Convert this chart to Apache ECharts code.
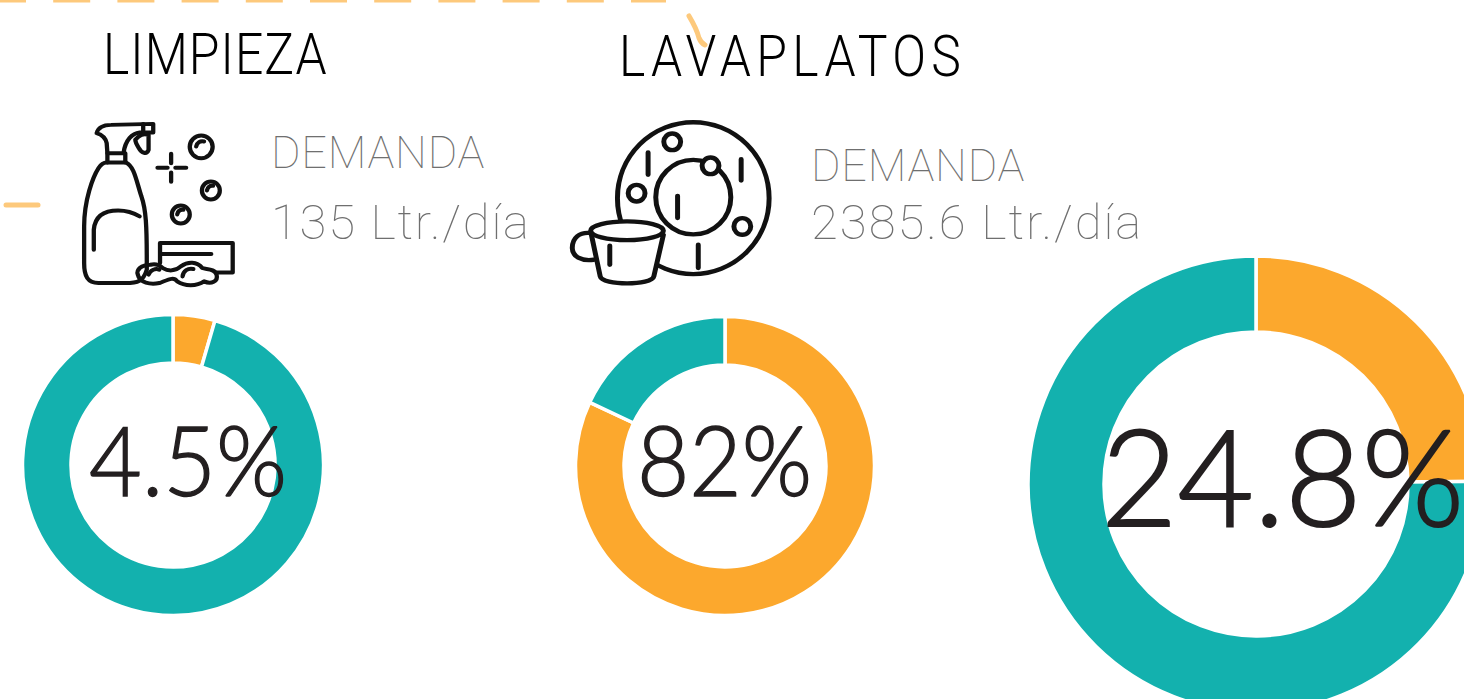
<!DOCTYPE html>
<html><head><meta charset="utf-8">
<style>html,body{margin:0;padding:0;background:#fff;overflow:hidden}#c{width:1464px;height:699px}</style>
<script src="https://cdn.jsdelivr.net/npm/echarts@6/dist/echarts.min.js"></script>
</head><body><div id="c"></div>
<script>
const categories = ['Uso', 'Resto'];
const limpiezaValues = [4.5, 95.5];
const lavaplatosValues = [82, 18];
const terceroValues = [24.8, 75.2];
const titles = ['LIMPIEZA', 'LAVAPLATOS'];
const demandLabel = 'DEMANDA';
const demandValues = ['135 Ltr./día', '2385.6 Ltr./día'];
const ORANGE = '#fca82d', TEAL = '#13b1ae', DECO = '#fdc97c', INK = '#231f20';

const chart = echarts.init(document.getElementById('c'), null, {renderer: 'svg', width: 1464, height: 699});

function donut(name, values, cx, cy, r0, r) {
  return {
    type: 'pie', name, center: [cx, cy], radius: [r0, r], startAngle: 90, clockwise: true,
    animation: false, silent: true, label: {show: false}, labelLine: {show: false},
    itemStyle: {borderColor: '#fff', borderWidth: 3.5},
    data: categories.map((c, i) => ({name: c, value: values[i], itemStyle: {color: i === 0 ? ORANGE : TEAL}}))
  };
}
const txt = (text, x, y, font, fill, sx, extra) => ({
  type: 'text', x, y, scaleX: sx || 1, silent: true, z: 10,
  style: Object.assign({text, font, fill, align: 'left', verticalAlign: 'middle'}, extra || {})
});
let shapeId = 0;
function pathShape(d) {
  const name = 'deco' + (shapeId++);
  echarts.graphic.registerShape(name, echarts.graphic.extendPath(d, {}));
  return name;
}
const stroke = {stroke: '#111', lineWidth: 12, fill: 'none', lineCap: 'round', lineJoin: 'round'};
const raw = (d, st) => ({type: pathShape(d), style: Object.assign({}, stroke, st || {})});
const circ = (cx, cy, rx, ry, st) => raw(`M${cx - rx} ${cy} A${rx} ${ry} 0 1 0 ${cx + rx} ${cy} A${rx} ${ry} 0 1 0 ${cx - rx} ${cy} Z`, st);

const bottle = [
  'M270 400 C275 380 290 375 310 375 L428 372 L428 398 L390 398 C370 400 350 420 345 460 L300 460 L298 430 C295 415 285 405 270 400 Z',
  'M400 372 V398',
  'M378 420 C390 405 400 400 415 405 L415 450 C410 465 395 460 388 445 C382 435 378 428 378 420 Z',
  'M300 460 V488 M350 460 V488',
  'M298 488 L352 488 C375 500 380 540 395 590 C408 630 410 680 410 780 L410 810 C400 845 385 850 350 850 L275 850 C245 850 235 830 235 790 L235 680 C235 600 260 530 275 505 C282 493 288 488 298 488 Z',
  'M262 750 L262 690 C265 650 290 632 330 632 C355 632 375 640 390 650',
  'M478 462 V490 M478 518 V546 M440 504 H468 M490 504 H520',
  'M447 790 L447 730 L650 730 L650 818 L605 818 M447 763 L590 763',
  'M420 795 C395 795 380 810 385 825 C390 850 420 855 445 850 C470 840 485 830 495 845 C515 860 550 860 570 845 C590 855 610 845 605 825 C600 805 575 810 565 805 C550 785 525 785 505 800 C490 815 470 815 455 805 C445 795 435 790 420 795 Z',
  'M415 825 C420 810 435 805 445 810 M510 830 C512 812 525 805 540 808',
  'M548 440 C550 428 560 422 570 425 M578 572 C580 562 586 556 595 558 M495 644 C497 634 503 628 512 630'
];
const cup = [
  'M82 700 C50 695 32 715 32 745 C32 770 55 785 88 780',
  'M130 738 V795'
];
const bars = 'M230 458 V525 M473 478 V542 M307 588 V655 M361 735 V805';
const heavy = {lineWidth: 13};
const GREY = '#6f6f6f';
const inkStroke = sw => ({stroke: INK, lineWidth: sw});

const option = {
  animation: false,
  backgroundColor: '#fff',
  series: [
    donut('Limpieza', limpiezaValues, 173, 465, 102, 150.5),
    donut('Lavaplatos', lavaplatosValues, 725, 466, 101, 149.5),
    donut('Total', terceroValues, 1256, 484, 152, 228)
  ],
  graphic: [
    {type: 'line', silent: true, shape: {x1: -11, y1: -0.5, x2: 666, y2: -0.5}, style: {stroke: DECO, lineWidth: 6, lineDash: [37, 27.2]}},
    {type: 'line', silent: true, shape: {x1: 6, y1: 205, x2: 38, y2: 205}, style: {stroke: DECO, lineWidth: 5, lineCap: 'round'}},
    txt(titles[0], 103, 54, '300 58px Roboto', '#000', 0.86),
    txt(titles[1], 619, 56, '300 58px Roboto', '#000', 0.86),
    Object.assign(raw('M689 16 C695 26 697 30 699 38 C701 43 703 44 705 45', {stroke: DECO, lineWidth: 5}), {z: 11, silent: true}),
    txt(demandLabel, 271, 152, '100 45px Roboto', GREY),
    txt(demandValues[0], 271, 222, '100 49px Roboto', GREY),
    txt(demandLabel, 811, 165, '100 45px Roboto', GREY),
    txt(demandValues[1], 811, 222, '100 49px Roboto', GREY),
    txt(limpiezaValues[0] + '%', 89, 459, '300 96px Lato', INK, 0.95, inkStroke(1.4)),
    txt(lavaplatosValues[0] + '%', 637, 459, '300 96px Lato', INK, 0.94, inkStroke(1.4)),
    txt(terceroValues[0] + '%', 1101, 474, '300 134px Lato', INK, 0.985, inkStroke(2)),
    {type: 'group', silent: true, scaleX: 1 / 2.79, scaleY: 1 / 3, children:
      bottle.map(d => raw(d)).concat([circ(562, 441, 32, 34), circ(589, 572, 25, 27), circ(505, 644, 25, 27)])},
    {type: 'group', silent: true, x: 560, scaleX: 1 / 2.613, scaleY: 1 / 3, children: [
      circ(348, 595, 198, 228, heavy),
      circ(348, 592, 98, 112, heavy),
      raw(bars, heavy),
      circ(293, 426, 22, 25, {fill: '#fff', lineWidth: 13}),
      circ(200, 580, 22, 25, {fill: '#fff', lineWidth: 13}),
      circ(476, 680, 22, 25, {fill: '#fff', lineWidth: 13}),
      circ(393, 498, 22, 25, {fill: '#fff', lineWidth: 13}),
      raw('M82 705 L105 830 C110 858 240 858 245 830 L270 705 Z', {fill: '#fff', lineWidth: 13}),
      circ(175, 693, 95, 28, {fill: '#fff', lineWidth: 13})
    ].concat(cup.map(d => raw(d, heavy)))}
  ]
};
chart.setOption(option);

// Tracking of the thin display type: the SVG renderer leaves real text nodes to space out.
const tracking = {
  [titles[0]]: 1.2,
  [titles[1]]: 6.2,
  [demandLabel]: 0.8,
  [demandValues[0]]: 1.8,
  [demandValues[1]]: 2
};
function applyTracking() {
  chart.getDom().querySelectorAll('text').forEach(t => {
    const s = tracking[t.textContent];
    if (s) t.style.letterSpacing = s + 'px';
  });
}
applyTracking();
chart.on('finished', applyTracking);
</script></body></html>
